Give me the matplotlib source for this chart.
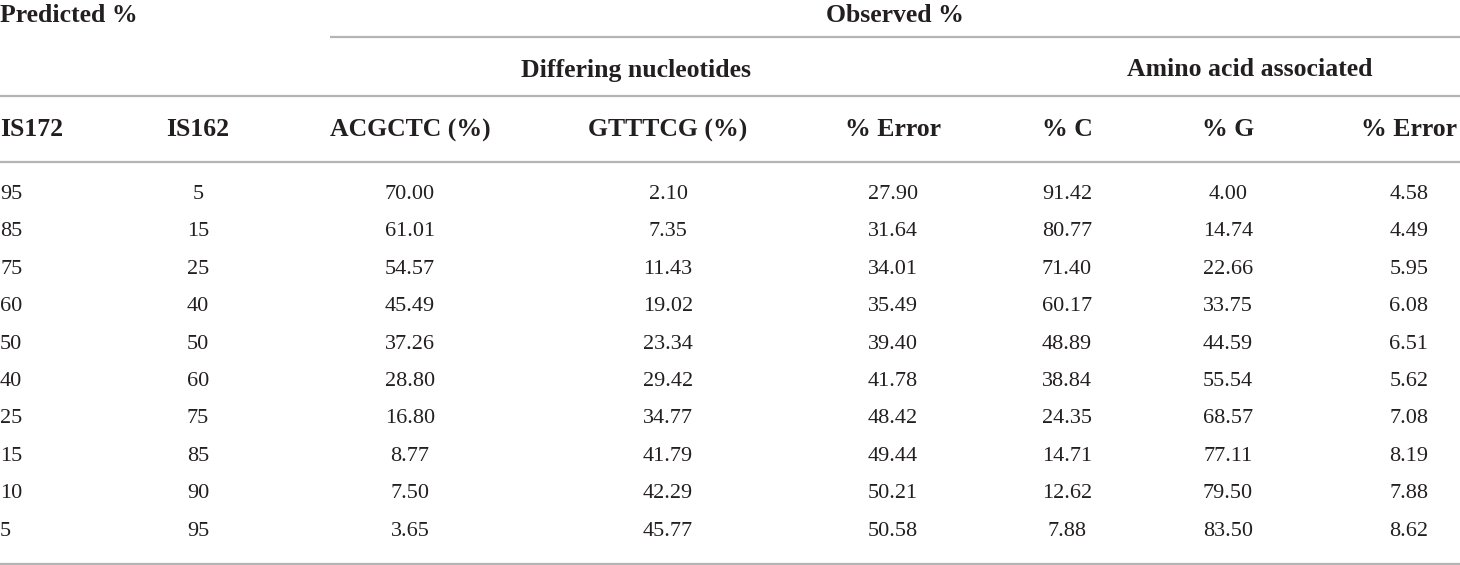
import matplotlib
matplotlib.use("Agg")
import matplotlib.pyplot as plt

# ---- data ----
is172 = ["95", "85", "75", "60", "50", "40", "25", "15", "10", "5"]
is162 = ["5", "15", "25", "40", "50", "60", "75", "85", "90", "95"]
acgctc = ["70.00", "61.01", "54.57", "45.49", "37.26", "28.80", "16.80", "8.77", "7.50", "3.65"]
gtttcg = ["2.10", "7.35", "11.43", "19.02", "23.34", "29.42", "34.77", "41.79", "42.29", "45.77"]
nuc_error = ["27.90", "31.64", "34.01", "35.49", "39.40", "41.78", "48.42", "49.44", "50.21", "50.58"]
pct_c = ["91.42", "80.77", "71.40", "60.17", "48.89", "38.84", "24.35", "14.71", "12.62", "7.88"]
pct_g = ["4.00", "14.74", "22.66", "33.75", "44.59", "55.54", "68.57", "77.11", "79.50", "83.50"]
aa_error = ["4.58", "4.49", "5.95", "6.08", "6.51", "5.62", "7.08", "8.19", "7.88", "8.62"]

col_headers = ["IS172", "IS162", "ACGCTC (%)", "GTTTCG (%)", "% Error", "% C", "% G", "% Error"]
group_top = ["Predicted %", "Observed %"]
group_sub = ["Differing nucleotides", "Amino acid associated"]

columns = [is172, is162, acgctc, gtttcg, nuc_error, pct_c, pct_g, aa_error]

# ---- layout ----
W, H = 1460, 565
fig = plt.figure(figsize=(W / 100, H / 100), dpi=100)
ax = fig.add_axes([0, 0, 1, 1])
ax.set_xlim(0, W)
ax.set_ylim(H, 0)
ax.axis("off")

FONT = "Liberation Serif"
TXT = "#231f20"
LINE = "#b4b4b4"
FS = 16
FSH = 18.5

col_x = [0, 198, 410, 668, 893, 1067, 1228, 1409]
col_ha = ["left"] + ["center"] * 7

# group headings
ax.text(0, 15, group_top[0], ha="left", va="center", fontsize=FSH,
        fontweight="bold", family=FONT, color=TXT)
ax.text(895, 15, group_top[1], ha="center", va="center", fontsize=FSH,
        fontweight="bold", family=FONT, color=TXT)
ax.text(636, 70, group_sub[0], ha="center", va="center", fontsize=FSH,
        fontweight="bold", family=FONT, color=TXT)
ax.text(1250, 70, group_sub[1], ha="center", va="center", fontsize=FSH,
        fontweight="bold", family=FONT, color=TXT)

# rules
ax.plot([330, W], [37, 37], color=LINE, lw=1.6, solid_capstyle="butt")
ax.plot([0, W], [96, 96], color=LINE, lw=1.6, solid_capstyle="butt")
ax.plot([0, W], [162, 162], color=LINE, lw=1.6, solid_capstyle="butt")
ax.plot([0, W], [563.5, 563.5], color=LINE, lw=1.6, solid_capstyle="butt")

# column headers
for x, ha, h in zip(col_x, col_ha, col_headers):
    ax.text(x, 130, h, ha=ha, va="center", fontsize=FSH, fontweight="bold",
            family=FONT, color=TXT)

# body
row_y0, row_dy = 194.5, 37.4
for x, ha, col in zip(col_x, col_ha, columns):
    for i, v in enumerate(col):
        ax.text(x, row_y0 + i * row_dy, v, ha=ha, va="center", fontsize=FS,
                family=FONT, color=TXT)

fig.savefig("out.png", dpi=100)
